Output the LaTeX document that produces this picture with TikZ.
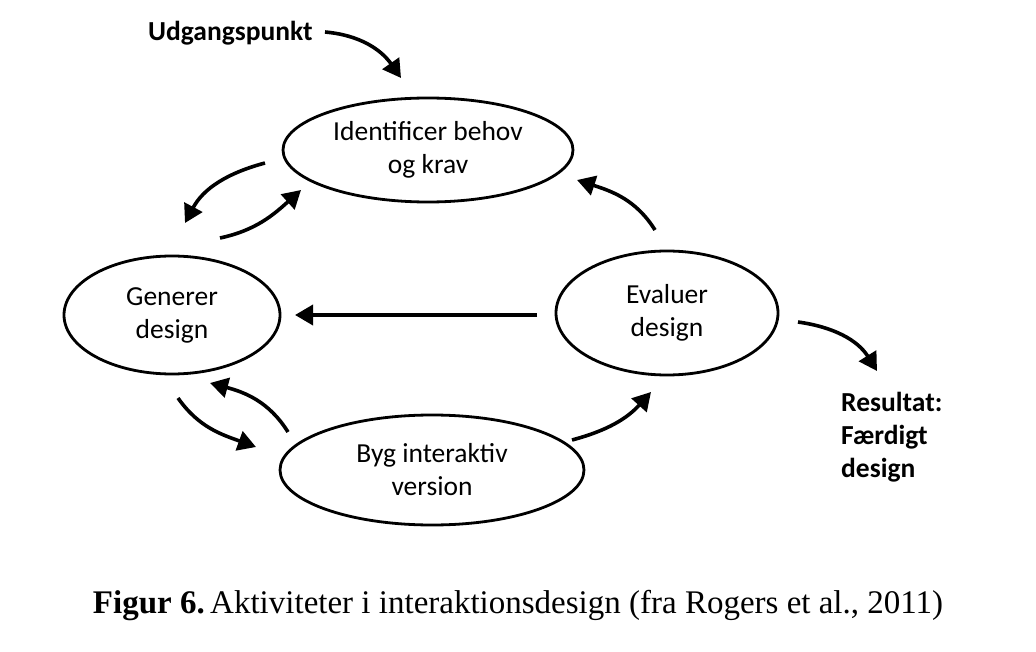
\documentclass[tikz,border=0pt]{standalone}
\usepackage{fontspec}
\setmainfont{Carlito}
\newfontfamily\capfont{Liberation Serif}
\usetikzlibrary{shapes.geometric,arrows.meta}
\tikzset{
  act/.style={draw, line width=2.8pt, ellipse, inner sep=0pt, align=center, font=\fontsize{27.5}{33}\selectfont},
  flow/.style={line width=3.6pt, -{Triangle[length=18pt,width=20pt]}},
  lbl/.style={font=\fontsize{27.5}{33}\selectfont\bfseries, align=left, inner sep=0pt}
}
\begin{document}
\begin{tikzpicture}[x=1pt,y=-1pt]
\useasboundingbox (0,0) rectangle (1036,652);
\node[act, minimum width=290pt, minimum height=104pt] (id) at (428,150) {Identificer behov\\og krav};
\node[act, minimum width=216pt, minimum height=118pt] (gen) at (172,315) {Generer\\design};
\node[act, minimum width=222pt, minimum height=124pt] (ev) at (667,313) {Evaluer\\design};
\node[act, minimum width=304pt, minimum height=110pt] (byg) at (432,470) {Byg interaktiv\\version};

\node[lbl, anchor=west] (start) at (148,33) {Udgangspunkt};
\node[lbl, anchor=north west] (res) at (841,392) {Resultat:\\Færdigt\\design};

\coordinate (s1) at (325,32);  \coordinate (t1) at (401,78);
\coordinate (sA) at (265,163); \coordinate (tA) at (185,223);
\coordinate (sB) at (220,238); \coordinate (tB) at (301,190);
\coordinate (sC) at (288,432); \coordinate (tC) at (210,383);
\coordinate (sD) at (178,398); \coordinate (tD) at (256,447);
\coordinate (s4) at (655,230); \coordinate (t4) at (577,180);
\coordinate (s5) at (572,440); \coordinate (t5) at (651,392);
\coordinate (s6) at (798,322); \coordinate (t6) at (877,371);
\coordinate (sH) at (537,315); \coordinate (tH) at (295,315);

\draw[flow] (s1) to[out=-5,in=125] (t1);
\draw[flow] (sA) to[out=195,in=62] (tA);
\draw[flow] (sB) to[out=12,in=222] (tB);
\draw[flow] (sC) to[out=122,in=-15] (tC);
\draw[flow] (sD) to[out=-55,in=160] (tD);
\draw[flow] (s4) to[out=122,in=-18] (t4);
\draw[flow] (s5) to[out=15,in=228] (t5);
\draw[flow] (s6) to[out=-8,in=122] (t6);
\draw[flow] (sH) -- (tH);

\node[font=\capfont\fontsize{33}{38}\selectfont, inner sep=0pt] (cap) at (518,606) {\textbf{Figur 6.}\,Aktiviteter i interaktionsdesign (fra Rogers et al., 2011)};
\end{tikzpicture}
\end{document}
